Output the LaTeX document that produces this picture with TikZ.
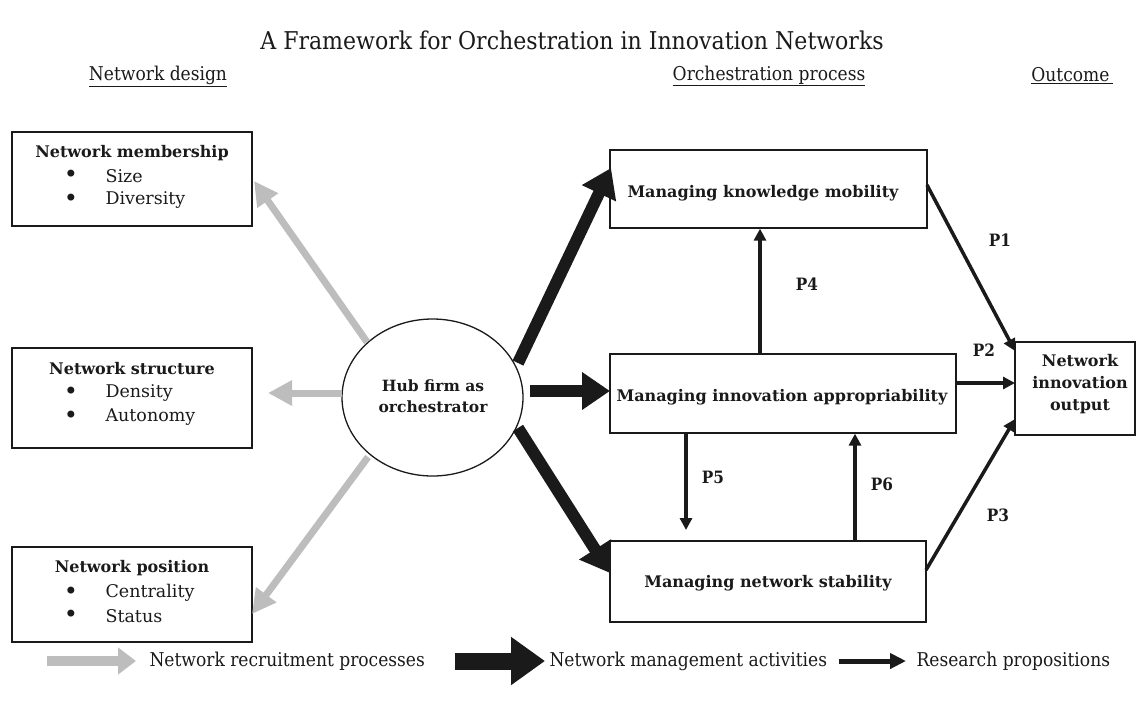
\documentclass[tikz,border=0pt]{standalone}
\usepackage{fontspec}
\setmainfont{DejaVu Serif}
\newfontfamily\condfont{DejaVu Serif Condensed}
\usetikzlibrary{arrows.meta,shapes.geometric}
\definecolor{ink}{HTML}{1A1A1A}
\definecolor{recr}{HTML}{BDBDBD}
\begin{document}
\begin{tikzpicture}[x=1pt,y=-1pt,
  every node/.style={text=ink},
  box/.style={draw=ink, line width=1.3pt, rectangle, inner sep=0pt},
  lbl/.style={font=\fontsize{16}{19}\selectfont\bfseries},
  item/.style={font=\fontsize{17.5}{20}\selectfont, anchor=west},
  bul/.style={font=\fontsize{24}{24}\selectfont},
  hdr/.style={font=\condfont\fontsize{19}{22}\selectfont},
  plab/.style={font=\condfont\fontsize{17}{20}\selectfont\bfseries},
  legtxt/.style={font=\condfont\fontsize{19}{22}\selectfont, anchor=west},
  recruit/.style={draw=recr, line width=7pt, -{Triangle[width=24pt,length=24pt]}},
  manage/.style={draw=ink, line width=12pt, -{Triangle[width=36pt,length=28pt]}},
  prop/.style={draw=ink, line width=3.5pt, -{Triangle[width=12pt,length=12pt]}}
]
\useasboundingbox (0,0) rectangle (1145,702);

% title and headers
\node[font=\condfont\fontsize{24.5}{28}\selectfont] (title) at (572,40) {A Framework for Orchestration in Innovation Networks};
\node[hdr] (hdesign) at (158,76) {\underline{Network design}};
\node[hdr] (hproc) at (769,76) {\underline{Orchestration process}};
\node[hdr] (hout) at (1072,76) {\underline{Outcome\,}};

% left boxes
\node[box, minimum width=240, minimum height=94] (mem) at (132,179) {};
\node[lbl] (memh) at (132,153) {Network membership};
\node[bul] (memb1) at (71,176) {•};
\node[item] (memi1) at (102,176) {Size};
\node[bul] (memb2) at (71,200) {•};
\node[item] (memi2) at (102,200) {Diversity};

\node[box, minimum width=240, minimum height=100] (str) at (132,398) {};
\node[lbl] (strh) at (132,369) {Network structure};
\node[bul] (strb1) at (71,393) {•};
\node[item] (stri1) at (102,393) {Density};
\node[bul] (strb2) at (71,417) {•};
\node[item] (stri2) at (102,417) {Autonomy};

\node[box, minimum width=240, minimum height=95] (pos) at (132,594.5) {};
\node[lbl] (posh) at (132,568) {Network position};
\node[bul] (posb1) at (71,593) {•};
\node[item] (posi1) at (102,593) {Centrality};
\node[bul] (posb2) at (71,616) {•};
\node[item] (posi2) at (102,616) {Status};

% hub
\node[draw=ink, line width=1.3pt, ellipse, minimum width=181, minimum height=157, inner sep=0pt] (hub) at (432.5,397.5) {};
\node[align=center, font=\fontsize{15.5}{21}\selectfont\bfseries] (hubt) at (433,396) {Hub firm as\\orchestrator};

% process boxes
\node[box, minimum width=317, minimum height=78] (km) at (768.5,189) {};
\node[lbl] (kmt) at (763,193) {Managing knowledge mobility};
\node[box, minimum width=346, minimum height=79] (ia) at (783,393.5) {};
\node[lbl] (iat) at (782,397) {Managing innovation appropriability};
\node[box, minimum width=316, minimum height=81] (ns) at (768,581.5) {};
\node[lbl] (nst) at (768,583) {Managing network stability};

% outcome
\node[box, minimum width=120, minimum height=93] (out) at (1075,388.5) {};
\node[align=center, font=\fontsize{16}{22}\selectfont\bfseries] (outt) at (1080,384) {Network\\innovation\\output};

% recruitment arrows
\coordinate (rm1) at (367,342);
\coordinate (rm2) at (254,181);
\coordinate (rs1) at (342,393);
\coordinate (rs2) at (268,393);
\coordinate (rp1) at (368,457);
\coordinate (rp2) at (252,614);
\draw[recruit] (rm1) -- (rm2);
\draw[recruit] (rs1) -- (rs2);
\draw[recruit] (rp1) -- (rp2);

% management arrows
\coordinate (mk1) at (518,363);
\coordinate (mk2) at (611,168);
\coordinate (ma1) at (530,391);
\coordinate (ma2) at (610,391);
\coordinate (mn1) at (518,428);
\coordinate (mn2) at (610,573);
\draw[manage] (mk1) -- (mk2);
\draw[manage] (ma1) -- (ma2);
\draw[manage] (mn1) -- (mn2);

% propositions
\coordinate (p1a) at (927,185);
\coordinate (p1b) at (1015,351);
\coordinate (p2a) at (956,383);
\coordinate (p2b) at (1015,383);
\coordinate (p3a) at (926,570);
\coordinate (p3b) at (1015,419);
\draw[prop] (p1a) -- (p1b);
\draw[prop] (p2a) -- (p2b);
\draw[prop] (p3a) -- (p3b);
\draw[prop] (ia.north -| 760,0) -- (km.south -| 760,0);
\draw[prop] (ia.south -| 686,0) -- (686,530);
\draw[prop] (ns.north -| 855,0) -- (ia.south -| 855,0);

\node[plab] (lp1) at (1000,240) {P1};
\node[plab] (lp2) at (984,350) {P2};
\node[plab] (lp3) at (998,515) {P3};
\node[plab] (lp4) at (807,284) {P4};
\node[plab] (lp5) at (713,477) {P5};
\node[plab] (lp6) at (882,484) {P6};

% legend
\coordinate (l1a) at (47,661);
\coordinate (l1b) at (136,661);
\coordinate (l2a) at (455,661);
\coordinate (l2b) at (545,661);
\coordinate (l3a) at (839,661);
\coordinate (l3b) at (906,661);
\draw[draw=recr, line width=10pt, -{Triangle[width=26pt,length=18pt]}] (l1a) -- (l1b);
\draw[draw=ink, line width=17pt, -{Triangle[width=46pt,length=34pt]}] (l2a) -- (l2b);
\draw[draw=ink, line width=5pt, -{Triangle[width=15pt,length=16pt]}] (l3a) -- (l3b);
\node[legtxt] (lt1) at (146,661) {Network recruitment processes};
\node[legtxt] (lt2) at (546,661) {Network management activities};
\node[legtxt] (lt3) at (913,661) {Research propositions};
\end{tikzpicture}
\end{document}
